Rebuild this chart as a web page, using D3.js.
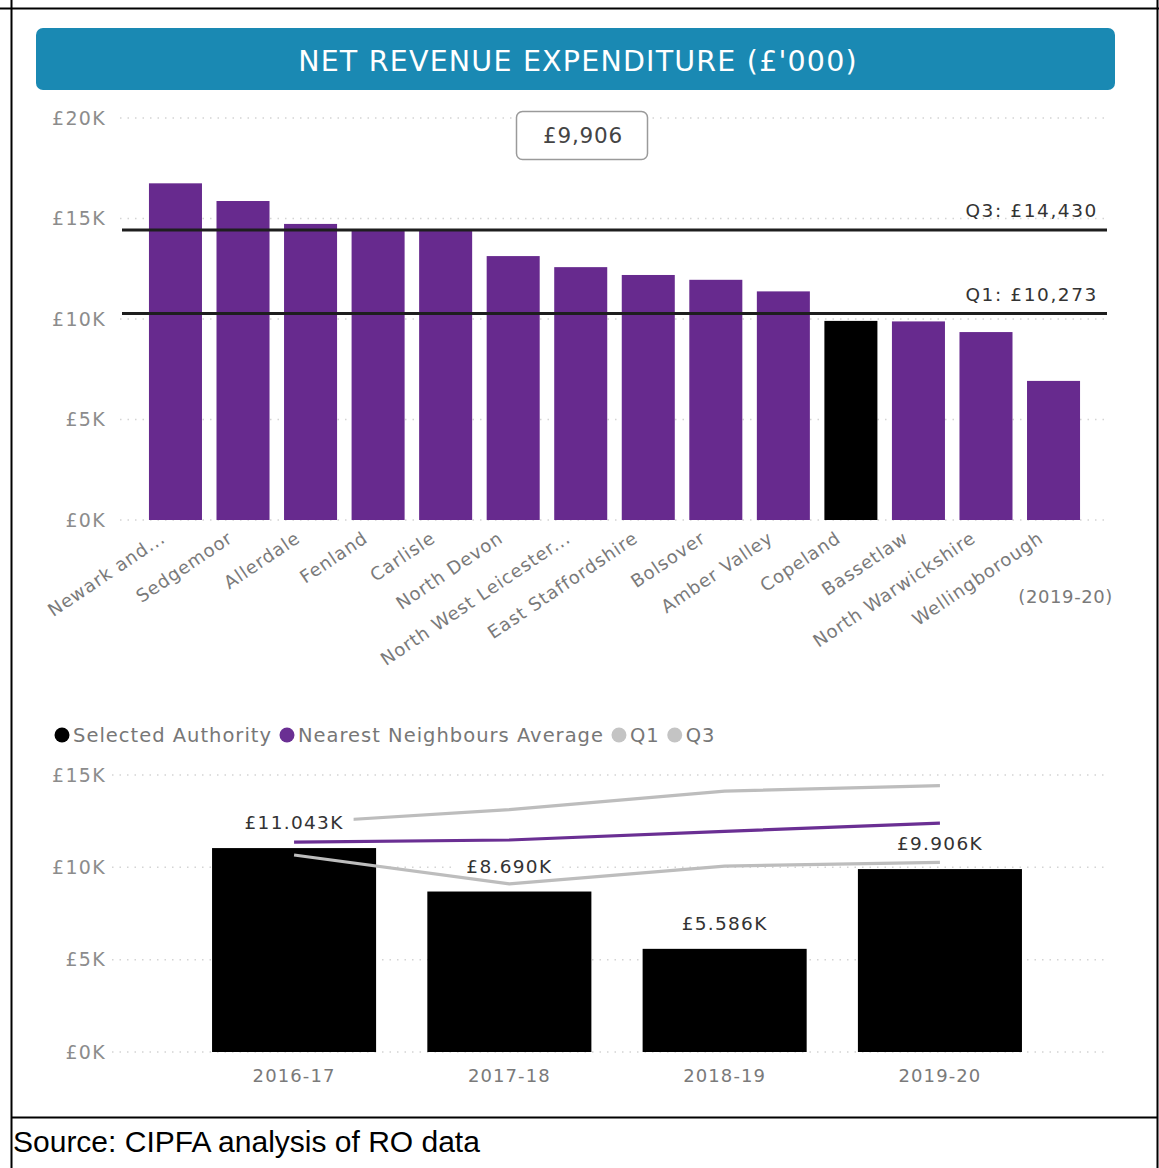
<!DOCTYPE html>
<html>
<head>
<meta charset="utf-8">
<script src="https://cdn.jsdelivr.net/npm/d3@7"></script>
<style>
  html, body { margin: 0; padding: 0; background: #fff; }
  svg { display: block; }
</style>
</head>
<body>
<svg id="chart" width="1159" height="1168"></svg>
<script>
// ---- Data: net revenue expenditure, £'000 ----
const authorities = [
  "Newark and...", "Sedgemoor", "Allerdale", "Fenland", "Carlisle", "North Devon",
  "North West Leicester...", "East Staffordshire", "Bolsover", "Amber Valley",
  "Copeland", "Bassetlaw", "North Warwickshire", "Wellingborough"
];
const expenditure2019 = [16750, 15870, 14730, 14440, 14400, 13130, 12580, 12190, 11950, 11374, 9906, 9880, 9350, 6920];
const selectedAuthority = "Copeland";
const quartileNames = ["Q3", "Q1"];
const quartileValues = [14430, 10273];
const topTicks = [0, 5000, 10000, 15000, 20000];
const topPeriod = "(2019-20)";

const years = ["2016-17", "2017-18", "2018-19", "2019-20"];
const selectedValues = [11043, 8690, 5586, 9906];
const neighboursAverage = [11370, 11480, 11950, 12390];
const q1Values = [10670, 9100, 10070, 10273];
const q3Values = [12400, 13130, 14130, 14430];
const bottomTicks = [0, 5000, 10000, 15000];
const legendNames = ["Selected Authority", "Nearest Neighbours Average", "Q1", "Q3"];

// ---- Styling ----
const PURPLE = "#672a8e";
const LINE_PURPLE = "#6a2f93";
const GREY_LINE = "#bdbdbd";
const TITLE_BG = "#1a89b3";
const FONT = "'DejaVu Sans', Verdana, sans-serif";

const svg = d3.select("#chart");
svg.append("rect").attr("width", 1159).attr("height", 1168).attr("fill", "#fff");

// Table frame around the figure and its source line
const frame = svg.append("g").attr("stroke", "#000").attr("stroke-width", 2);
frame.append("line").attr("x1", 0).attr("x2", 1159).attr("y1", 8.5).attr("y2", 8.5);
frame.append("line").attr("x1", 11.5).attr("x2", 11.5).attr("y1", 0).attr("y2", 1168);
frame.append("line").attr("x1", 1157.5).attr("x2", 1157.5).attr("y1", 0).attr("y2", 1168);
frame.append("line").attr("x1", 11).attr("x2", 1158).attr("y1", 1117.5).attr("y2", 1117.5);

svg.append("text")
  .attr("x", 13).attr("y", 1152)
  .attr("font-family", "'Liberation Sans', Arial, sans-serif")
  .attr("font-size", 30)
  .attr("fill", "#000")
  .text("Source: CIPFA analysis of RO data");

// Title banner
svg.append("rect")
  .attr("x", 36).attr("y", 28).attr("width", 1079).attr("height", 62).attr("rx", 7)
  .attr("fill", TITLE_BG);
svg.append("text")
  .attr("x", 578).attr("y", 71)
  .attr("text-anchor", "middle")
  .attr("font-family", FONT).attr("font-size", 28.5).attr("letter-spacing", 1.2)
  .attr("fill", "#fff")
  .text("NET REVENUE EXPENDITURE (£'000)");

const fmtK = v => "£" + (v / 1000) + "K";
const fmtPounds = d3.format(",");

// ================= Top chart: authorities ranked =================
const yTop = d3.scaleLinear().domain([0, 20000]).range([520, 118]);
const xTop = d3.scaleBand().domain(authorities)
  .range([142.2, 1086.8]).paddingInner(0.215).paddingOuter(0.1);

// Dotted gridlines
svg.append("g").selectAll("line").data(topTicks).join("line")
  .attr("x1", 120).attr("x2", 1107)
  .attr("y1", d => yTop(d)).attr("y2", d => yTop(d))
  .attr("stroke", "#d4d4d4").attr("stroke-width", 1.5)
  .attr("stroke-dasharray", "1.5,6");

const yAxisTop = svg.append("g").attr("transform", "translate(106,0)")
  .call(d3.axisLeft(yTop).tickValues(topTicks).tickFormat(fmtK).tickSize(0).tickPadding(0));
yAxisTop.select(".domain").remove();
yAxisTop.selectAll("text")
  .attr("font-family", FONT).attr("font-size", 19).attr("letter-spacing", 1.3)
  .attr("fill", "#8c8c8c");

// Bars
svg.append("g").selectAll("rect").data(authorities).join("rect")
  .attr("x", d => xTop(d))
  .attr("width", xTop.bandwidth())
  .attr("y", (d, i) => yTop(expenditure2019[i]))
  .attr("height", (d, i) => yTop(0) - yTop(expenditure2019[i]))
  .attr("fill", d => d === selectedAuthority ? "#000" : PURPLE);

// Quartile reference lines
const qg = svg.append("g");
qg.selectAll("line").data(quartileValues).join("line")
  .attr("x1", 122).attr("x2", 1107)
  .attr("y1", d => yTop(d)).attr("y2", d => yTop(d))
  .attr("stroke", "#1e1e1e").attr("stroke-width", 3);
qg.selectAll("text").data(quartileValues).join("text")
  .attr("x", 1098).attr("y", d => yTop(d) - 13)
  .attr("text-anchor", "end")
  .attr("font-family", FONT).attr("font-size", 18.5).attr("letter-spacing", 1.6)
  .attr("fill", "#333")
  .text((d, i) => quartileNames[i] + ": £" + fmtPounds(d));

// Rotated category labels
const xAxisTop = svg.append("g").attr("transform", "translate(0,520)")
  .call(d3.axisBottom(xTop).tickSize(0));
xAxisTop.select(".domain").remove();
xAxisTop.selectAll("text")
  .attr("x", 0).attr("y", 0).attr("dy", 0)
  .attr("text-anchor", "end")
  .attr("transform", "translate(-9,21) rotate(-34)")
  .attr("font-family", FONT).attr("font-size", 18).attr("letter-spacing", 0.9)
  .attr("fill", "#7a7a7a");

svg.append("text")
  .attr("x", 1113).attr("y", 603).attr("text-anchor", "end")
  .attr("font-family", FONT).attr("font-size", 18).attr("letter-spacing", 0.6)
  .attr("fill", "#7a7a7a")
  .text(topPeriod);

// Selected authority value card
const selectedValue = expenditure2019[authorities.indexOf(selectedAuthority)];
svg.append("rect")
  .attr("x", 516.5).attr("y", 111.5).attr("width", 131).attr("height", 48).attr("rx", 6)
  .attr("fill", "#fff").attr("stroke", "#9a9a9a").attr("stroke-width", 1.5);
svg.append("text")
  .attr("x", 583).attr("y", 143).attr("text-anchor", "middle")
  .attr("font-family", FONT).attr("font-size", 21.5).attr("letter-spacing", 0.8)
  .attr("fill", "#444")
  .text("£" + fmtPounds(selectedValue));

// ================= Bottom chart: trend over years =================
// Legend
const legendColors = ["#000", LINE_PURPLE, "#c4c4c4", "#c4c4c4"];
const legend = svg.append("g");
let lx = 62;
legendNames.forEach((name, i) => {
  legend.append("circle").attr("cx", lx).attr("cy", 735).attr("r", 7.5).attr("fill", legendColors[i]);
  const t = legend.append("text")
    .attr("x", lx + 11).attr("y", 742)
    .attr("font-family", FONT).attr("font-size", 19.5).attr("letter-spacing", 1.0)
    .attr("fill", "#777")
    .text(name);
  lx = lx + 11 + t.node().getComputedTextLength() + 15;
});

const yBot = d3.scaleLinear().domain([0, 15000]).range([1052, 775]);
const xBot = d3.scaleBand().domain(years).range([110, 1124]).paddingInner(0.238).paddingOuter(0.474);

svg.append("g").selectAll("line").data(bottomTicks).join("line")
  .attr("x1", 112).attr("x2", 1107)
  .attr("y1", d => yBot(d)).attr("y2", d => yBot(d))
  .attr("stroke", "#d4d4d4").attr("stroke-width", 1.5)
  .attr("stroke-dasharray", "1.5,6");

const yAxisBot = svg.append("g").attr("transform", "translate(106,0)")
  .call(d3.axisLeft(yBot).tickValues(bottomTicks).tickFormat(fmtK).tickSize(0).tickPadding(0));
yAxisBot.select(".domain").remove();
yAxisBot.selectAll("text")
  .attr("font-family", FONT).attr("font-size", 19).attr("letter-spacing", 1.3)
  .attr("fill", "#8c8c8c");

svg.append("g").selectAll("rect").data(years).join("rect")
  .attr("x", d => xBot(d))
  .attr("width", xBot.bandwidth())
  .attr("y", (d, i) => yBot(selectedValues[i]))
  .attr("height", (d, i) => yBot(0) - yBot(selectedValues[i]))
  .attr("fill", "#000");

const cx = d => xBot(d) + xBot.bandwidth() / 2;
const lineGen = vals => d3.line().x(d => cx(d)).y((d, i) => yBot(vals[i]))(years);
const seriesLines = [
  { vals: q3Values, color: GREY_LINE },
  { vals: q1Values, color: GREY_LINE },
  { vals: neighboursAverage, color: LINE_PURPLE }
];
svg.append("g").selectAll("path").data(seriesLines).join("path")
  .attr("d", s => lineGen(s.vals))
  .attr("fill", "none")
  .attr("stroke", s => s.color)
  .attr("stroke-width", 3.2)
  .attr("stroke-linejoin", "round");

// Data labels on bars, on a white backing so lines pass behind them
const labels = svg.append("g").selectAll("g").data(years).join("g");
labels.each(function (d, i) {
  const g = d3.select(this);
  const t = g.append("text")
    .attr("x", cx(d)).attr("y", yBot(selectedValues[i]) - 19)
    .attr("text-anchor", "middle")
    .attr("font-family", FONT).attr("font-size", 18.5).attr("letter-spacing", 1.3)
    .attr("fill", "#333")
    .text("£" + d3.format(".3f")(selectedValues[i] / 1000) + "K");
  const bb = t.node().getBBox();
  g.insert("rect", "text")
    .attr("x", bb.x - 10).attr("y", bb.y + 2).attr("width", bb.width + 20).attr("height", bb.height - 4)
    .attr("fill", "#fff");
});

const xAxisBot = svg.append("g").attr("transform", "translate(0,1052)")
  .call(d3.axisBottom(xBot).tickSize(0));
xAxisBot.select(".domain").remove();
xAxisBot.selectAll("text")
  .attr("y", 30).attr("dy", 0)
  .attr("font-family", FONT).attr("font-size", 18).attr("letter-spacing", 1.1)
  .attr("fill", "#7a7a7a");
</script>
</body>
</html>
